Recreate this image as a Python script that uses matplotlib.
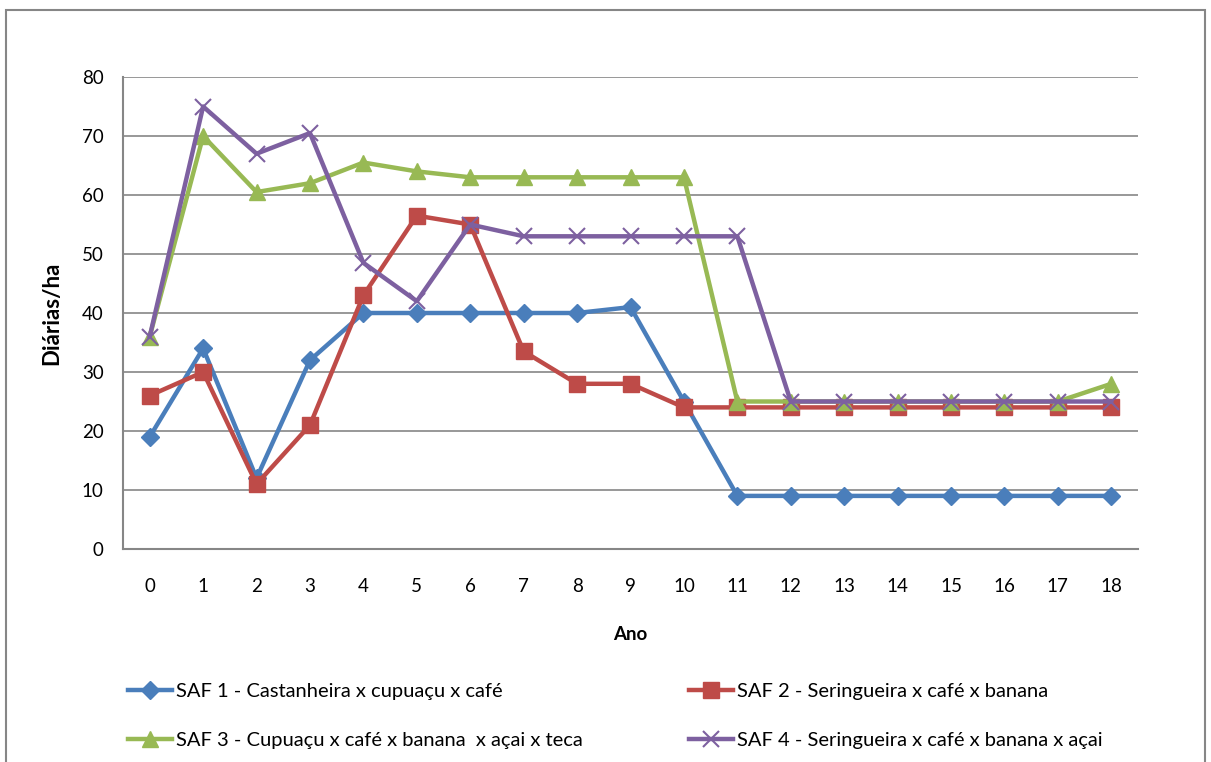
"""
Diárias/ha por ano para quatro SAFs - recriação do gráfico de linhas.
"""
import matplotlib
matplotlib.use("Agg")
import matplotlib.pyplot as plt
from matplotlib.patches import Rectangle

plt.rcParams["font.family"] = ["Lato", "DejaVu Sans"]

anos = list(range(19))
saf1 = [19, 34, 12, 32, 40, 40, 40, 40, 40, 41, 25, 9, 9, 9, 9, 9, 9, 9, 9]
saf2 = [26, 30, 11, 21, 43, 56.5, 55, 33.5, 28, 28, 24, 24, 24, 24, 24, 24, 24, 24, 24]
saf3 = [36, 70, 60.5, 62, 65.5, 64, 63, 63, 63, 63, 63, 25, 25, 25, 25, 25, 25, 25, 28]
saf4 = [36, 75, 67, 70.5, 48.5, 42, 55, 53, 53, 53, 53, 53, 25, 25, 25, 25, 25, 25, 25]

rotulos = [
    "SAF 1 - Castanheira x cupuaçu x café",
    "SAF 2 - Seringueira x café x banana",
    "SAF 3 - Cupuaçu x café x banana  x açai x teca",
    "SAF 4 - Seringueira x café x banana x açai",
]

AZUL = "#4A7EBB"
VERMELHO = "#BE4B48"
VERDE = "#98B954"
ROXO = "#7D60A0"
CINZA = "#868686"

fig = plt.figure(figsize=(12.11, 7.62), dpi=100)
ax = fig.add_axes([123 / 1211, 1 - 549 / 762, (1138 - 123) / 1211, (549 - 77) / 762])

# borda externa do gráfico
fig.patches.append(Rectangle((6 / 1211, -0.05), (1205 - 6) / 1211, 1.05 - 10 / 762,
                             transform=fig.transFigure, fill=False,
                             edgecolor=CINZA, linewidth=1.5))

lw = 3.2
l1, = ax.plot(anos, saf1, color=AZUL, lw=lw, marker="D", ms=9, label=rotulos[0])
l2, = ax.plot(anos, saf2, color=VERMELHO, lw=lw, marker="s", ms=11, label=rotulos[1])
l3, = ax.plot(anos, saf3, color=VERDE, lw=lw, marker="^", ms=12, label=rotulos[2])
l4, = ax.plot(anos, saf4, color=ROXO, lw=lw, marker="x", ms=12, mew=1.5, label=rotulos[3])

ax.set_xlim(-0.5, 18.5)
ax.set_ylim(0, 80)
ax.set_yticks(range(0, 81, 10))
ax.set_xticks(anos)
ax.grid(axis="y", color=CINZA, lw=1.2)
ax.set_axisbelow(True)
ax.tick_params(length=0, labelsize=13.5)
ax.tick_params(axis="x", pad=21)
ax.tick_params(axis="y", pad=14)
for lado in ["top", "right"]:
    ax.spines[lado].set_visible(False)
for lado in ["left", "bottom"]:
    ax.spines[lado].set_color(CINZA)
    ax.spines[lado].set_linewidth(1.5)

ax.set_xlabel("Ano", fontsize=13.5, fontweight="bold", labelpad=22)
ax.set_ylabel("Diárias/ha", fontsize=16, fontweight="bold", labelpad=14)

# legenda em duas colunas, posicionadas como no original
kw = dict(loc="upper left", frameon=False, fontsize=14.5, handlelength=2.2,
          handletextpad=0.2, labelspacing=1.57, borderpad=0, borderaxespad=0)
leg1 = fig.legend([l1, l3], [rotulos[0], rotulos[2]],
                  bbox_to_anchor=(128 / 1211, 1 - 683 / 762), **kw)
leg2 = fig.legend([l2, l4], [rotulos[1], rotulos[3]],
                  bbox_to_anchor=(689 / 1211, 1 - 683 / 762), **kw)

fig.savefig("out.png", dpi=100)
